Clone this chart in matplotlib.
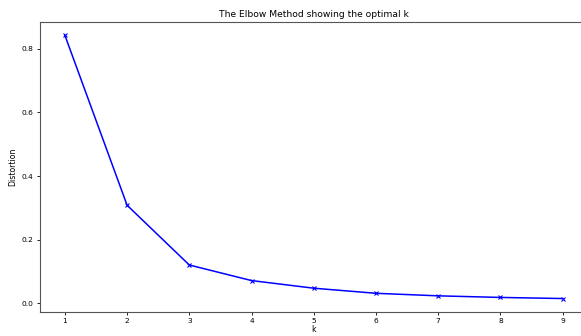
import numpy as np
import matplotlib.pyplot as plt

# distortion for each number of clusters
K = [1, 2, 3, 4, 5, 6, 7, 8, 9]
distortions = [0.843, 0.308, 0.120, 0.071, 0.047, 0.031, 0.023, 0.018, 0.0145]

fig = plt.figure(figsize=(5.81, 3.36), dpi=100)
ax = fig.add_axes([0.0688, 0.0723, 0.9426, 0.862])

ax.plot(K, distortions, 'bx-', linewidth=1.1, markersize=3.5, markeredgewidth=0.8)
ax.set_xlabel('k', fontsize=5.6, labelpad=1)
ax.set_ylabel('Distortion', fontsize=5.6, labelpad=3)
ax.set_title('The Elbow Method showing the optimal k', fontsize=6.6, pad=4)
ax.tick_params(labelsize=5.4, length=2.5, width=0.6, pad=2)
for s in ax.spines.values():
    s.set_linewidth(0.8)
    s.set_color('#555555')

fig.savefig('out.png', dpi=100)
